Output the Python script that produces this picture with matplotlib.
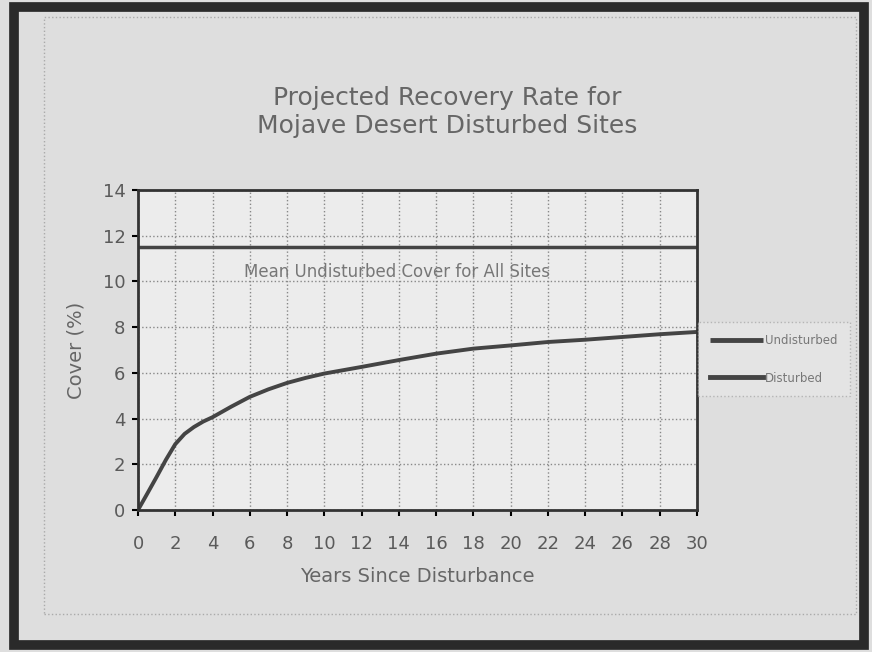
import matplotlib
matplotlib.use("Agg")
import matplotlib.pyplot as plt
from matplotlib.patches import Rectangle

years = [0, 0.5, 1, 1.5, 2, 2.5, 3, 3.5, 4, 5, 6, 7, 8, 9, 10, 12, 14, 16, 18, 20, 22, 24, 26, 28, 30]
disturbed = [0.0, 0.72, 1.45, 2.2, 2.88, 3.33, 3.63, 3.87, 4.06, 4.52, 4.95, 5.28, 5.56, 5.78,
             5.97, 6.26, 6.56, 6.84, 7.06, 7.2, 7.35, 7.45, 7.57, 7.69, 7.79]
undisturbed_years = [0, 30]
undisturbed = [11.5, 11.5]
xticks = list(range(0, 31, 2))
yticks = list(range(0, 15, 2))

W, H = 872, 652
fig = plt.figure(figsize=(W / 100, H / 100), dpi=100, facecolor="#dedede")

# outer frame
fig.patches.append(Rectangle((14 / W, 7 / H), (W - 22) / W, (H - 14) / H,
                             transform=fig.transFigure, fill=False,
                             edgecolor="#2a2a2a", linewidth=7))
fig.patches.append(Rectangle((44 / W, 38 / H), (W - 60) / W, (H - 55) / H,
                             transform=fig.transFigure, fill=False,
                             edgecolor="#aaaaaa", linewidth=1, linestyle=":"))

ax = fig.add_axes([138 / W, 1 - 510 / H, (697 - 138) / W, (510 - 190) / H])
ax.set_facecolor("#ececec")

ax.plot(undisturbed_years, undisturbed, color="#444444", lw=2.5, label="Undisturbed",
        solid_capstyle="butt")
ax.plot(years, disturbed, color="#444444", lw=2.8, label="Disturbed",
        solid_joinstyle="round")

ax.set_xlim(0, 30)
ax.set_ylim(0, 14)
ax.set_xticks(xticks)
ax.set_yticks(yticks)
ax.grid(True, color="#888888", linestyle=":", linewidth=1)
for s in ax.spines.values():
    s.set_color("#333333")
    s.set_linewidth(2)
ax.tick_params(axis="x", labelsize=13, length=4, width=1.5, direction="out", pad=14)
ax.tick_params(axis="y", labelsize=13, length=4, width=1.5, direction="out", pad=5)
for lab in ax.get_xticklabels() + ax.get_yticklabels():
    lab.set_color("#5a5a5a")

ax.text(5.7, 10.4, "Mean Undisturbed Cover for All Sites", fontsize=12, color="#777777",
        ha="left", va="center")

ax.set_xlabel("Years Since Disturbance", fontsize=14, color="#666666", labelpad=10)
ax.set_ylabel("Cover (%)", fontsize=14, color="#666666", labelpad=12)

fig.text(447 / W, 1 - 112 / H, "Projected Recovery Rate for\nMojave Desert Disturbed Sites",
         ha="center", va="center", fontsize=18, color="#666666", linespacing=1.25)

leg = fig.legend(loc="upper left", bbox_to_anchor=(692 / W, 1 - 316 / H), fontsize=8.5,
                 frameon=True, handlelength=4.5, labelspacing=2.1, borderpad=1.0,
                 handletextpad=0.2, fancybox=False)
leg.get_frame().set_edgecolor("#aaaaaa")
leg.get_frame().set_linestyle(":")
leg.get_frame().set_facecolor("#e6e6e6")
for line in leg.get_lines():
    line.set_linewidth(3.5)
for t in leg.get_texts():
    t.set_color("#777777")

fig.savefig("out.png", dpi=100, facecolor=fig.get_facecolor())
